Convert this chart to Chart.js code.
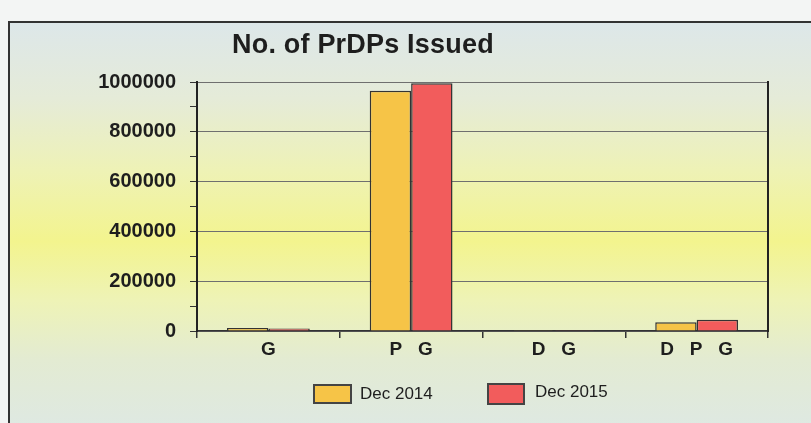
<!DOCTYPE html>
<html>
<head>
<meta charset="utf-8">
<script src="https://cdn.jsdelivr.net/npm/chart.js@4.4.1/dist/chart.umd.min.js"></script>
<style>
  html, body { margin: 0; padding: 0; }
  body { width: 811px; height: 423px; overflow: hidden; background: #f3f5f4; position: relative; font-family: "Liberation Sans", Arial, sans-serif; }
  #frame {
    position: absolute; left: 8px; top: 21px; width: 820px; height: 420px;
    border-top: 2px solid #333; border-left: 2px solid #333;
    background: linear-gradient(to bottom, #dde7e9 0%, #e5ebd8 18%, #eef2b6 35%, #f3f48e 52%, #eef3b6 66%, #e3ebd2 80%, #dde8e6 100%);
  }
  #chartBox { position: absolute; left: 0; top: 0; width: 811px; height: 423px; }
  #title { position: absolute; left: 232px; top: 29px; font-size: 27px; font-weight: bold; color: #1e1e1e; letter-spacing: 0.2px; }
  .leg { position: absolute; font-size: 17px; color: #1e1e1e; }
  .box { position: absolute; border: 2px solid #444; box-sizing: border-box; }
</style>
</head>
<body>
<div id="frame"></div>
<div id="chartBox"><canvas id="barChart" width="811" height="423"></canvas></div>
<div id="title">No. of PrDPs Issued</div>
<div id="legend"></div>
<script>
const categories = ['G', 'P G', 'D G', 'D P G'];
const seriesNames = ['Dec 2014', 'Dec 2015'];
const dec2014 = [12000, 965000, 1000, 35000];
const dec2015 = [10000, 995000, 1000, 45000];
const seriesColors = ['#f6c447', '#f25c5c'];
const yTicks = [0, 200000, 400000, 600000, 800000, 1000000];

// legend as html, placed like the original
const legendPos = [{ box: [313, 384, 39, 20], text: [360, 384] }, { box: [487, 383, 38, 22], text: [535, 382] }];
const legend = document.getElementById('legend');
seriesNames.forEach((name, i) => {
  const p = legendPos[i];
  const b = document.createElement('div');
  b.className = 'box';
  b.style.cssText = `left:${p.box[0]}px;top:${p.box[1]}px;width:${p.box[2]}px;height:${p.box[3]}px;background:${seriesColors[i]}`;
  legend.appendChild(b);
  const t = document.createElement('div');
  t.className = 'leg';
  t.style.left = p.text[0] + 'px';
  t.style.top = p.text[1] + 'px';
  t.textContent = name;
  legend.appendChild(t);
});

const ctx = document.getElementById('barChart').getContext('2d');
new Chart(ctx, {
  type: 'bar',
  data: {
    labels: categories,
    datasets: [{
      label: seriesNames[0],
      data: dec2014,
      backgroundColor: seriesColors[0],
      borderColor: '#333',
      borderWidth: 1.5,
      categoryPercentage: 0.58,
      barPercentage: 1
    }, {
      label: seriesNames[1],
      data: dec2015,
      backgroundColor: seriesColors[1],
      borderColor: '#333',
      borderWidth: 1.5,
      categoryPercentage: 0.58,
      barPercentage: 1
    }]
  },
  options: {
    responsive: false,
    animation: false,
    layout: { padding: { top: 82, right: 0, left: 0, bottom: 60 } },
    plugins: { legend: { display: false }, title: { display: false }, tooltip: { enabled: false } },
    scales: {
      x: {
        grid: { offset: true, drawOnChartArea: false, tickLength: 7, color: '#333', lineWidth: 1.5 },
        border: { color: '#333', width: 1.5 },
        ticks: {
          color: '#1e1e1e',
          font: { family: 'Liberation Sans', size: 19, weight: 'bold' },
          padding: 0,
          // the original spaces the letters out
          callback: function (v) { return this.getLabelForValue(v).split(' ').join('   '); }
        },
        afterFit: (scale) => { scale.height = 32; }
      },
      y: {
        min: 0,
        max: 1000000,
        afterBuildTicks: (scale) => {
          const t = [];
          for (let v = 0; v <= 1000000; v += 100000) t.push({ value: v });
          scale.ticks = t;
        },
        ticks: {
          color: '#1e1e1e',
          font: { family: 'Liberation Sans', size: 20, weight: 'bold' },
          padding: 14,
          autoSkip: false,
          callback: (v) => yTicks.includes(v) ? String(v) : ''
        },
        grid: {
          tickLength: 7,
          color: (c) => (c.tick && yTicks.includes(c.tick.value)) ? '#6f6f6f' : 'rgba(0,0,0,0)',
          tickColor: '#333',
          lineWidth: 1
        },
        border: { color: '#222', width: 2 },
        afterFit: (scale) => { scale.width = 197; }
      },
      y2: {
        position: 'right',
        min: 0,
        max: 1000000,
        ticks: { display: false },
        grid: { drawOnChartArea: false, drawTicks: false },
        border: { color: '#222', width: 2 },
        afterFit: (scale) => { scale.width = 43; }
      }
    }
  }
});
</script>
</body>
</html>
